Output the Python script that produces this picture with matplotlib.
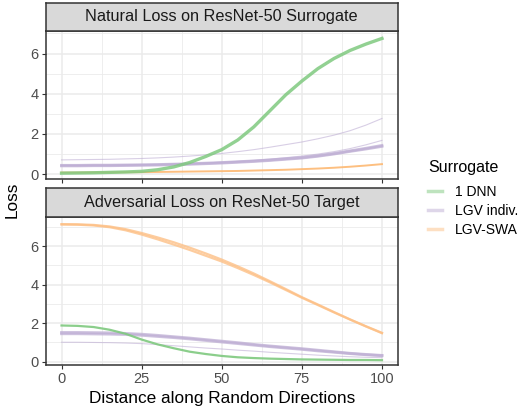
import matplotlib
matplotlib.use("Agg")
import matplotlib.pyplot as plt
from matplotlib.lines import Line2D
from matplotlib.ticker import MultipleLocator

plt.rcParams['font.family'] = ['Liberation Sans', 'DejaVu Sans']

# distance along random directions
DIST = list(range(0, 101, 5))

# natural loss on the surrogate
nat_dnn = [0.05, 0.06, 0.07, 0.09, 0.11, 0.14, 0.22, 0.36, 0.58, 0.88, 1.22,
           1.7, 2.35, 3.15, 3.95, 4.63, 5.25, 5.75, 6.15, 6.47, 6.75]
nat_lgv_a = [0.41, 0.41, 0.42, 0.42, 0.43, 0.44, 0.45, 0.47, 0.49, 0.52, 0.55,
             0.59, 0.63, 0.68, 0.74, 0.8, 0.89, 1.0, 1.13, 1.25, 1.38]
nat_lgv_b = [0.44, 0.44, 0.45, 0.45, 0.46, 0.47, 0.48, 0.5, 0.52, 0.55, 0.58,
             0.62, 0.66, 0.71, 0.77, 0.83, 0.92, 1.03, 1.16, 1.29, 1.43]
nat_lgv_c = [0.44, 0.44, 0.45, 0.45, 0.46, 0.47, 0.49, 0.51, 0.53, 0.56, 0.6,
             0.64, 0.69, 0.75, 0.82, 0.9, 1.0, 1.12, 1.27, 1.46, 1.68]
nat_lgv_d = [0.71, 0.72, 0.73, 0.74, 0.76, 0.78, 0.81, 0.85, 0.9, 0.96, 1.03,
             1.12, 1.22, 1.34, 1.47, 1.6, 1.76, 1.94, 2.16, 2.44, 2.77]
nat_swa = [0.08, 0.08, 0.09, 0.09, 0.1, 0.1, 0.11, 0.12, 0.13, 0.14, 0.15,
           0.16, 0.18, 0.2, 0.22, 0.25, 0.28, 0.32, 0.37, 0.43, 0.5]

# adversarial loss on the target
adv_dnn = [1.88, 1.86, 1.8, 1.66, 1.45, 1.15, 0.9, 0.7, 0.52, 0.4, 0.3,
           0.23, 0.19, 0.16, 0.14, 0.12, 0.11, 0.1, 0.09, 0.09, 0.08]
adv_lgv_a = [1.52, 1.52, 1.51, 1.5, 1.47, 1.43, 1.37, 1.3, 1.23, 1.15, 1.07,
             0.99, 0.9, 0.82, 0.75, 0.68, 0.6, 0.52, 0.44, 0.38, 0.33]
adv_lgv_b = [1.45, 1.45, 1.44, 1.43, 1.41, 1.37, 1.31, 1.25, 1.18, 1.1, 1.02,
             0.94, 0.86, 0.78, 0.71, 0.64, 0.56, 0.49, 0.42, 0.36, 0.31]
adv_lgv_c = [1.01, 1.01, 1.0, 0.99, 0.97, 0.94, 0.89, 0.83, 0.77, 0.71, 0.66,
             0.6, 0.55, 0.49, 0.44, 0.39, 0.34, 0.3, 0.26, 0.23, 0.21]
adv_swa_a = [7.14, 7.13, 7.1, 7.02, 6.88, 6.68, 6.45, 6.2, 5.92, 5.62, 5.3,
             4.95, 4.58, 4.18, 3.77, 3.35, 2.97, 2.58, 2.2, 1.84, 1.5]
adv_swa_b = [7.12, 7.11, 7.07, 6.98, 6.82, 6.6, 6.35, 6.08, 5.8, 5.5, 5.2,
             4.86, 4.5, 4.12, 3.72, 3.32, 2.94, 2.56, 2.19, 1.83, 1.48]

LABELS = ["1 DNN", "LGV indiv.", "LGV-SWA"]
COLORS = ["#7FC97F", "#BEAED4", "#FDC086"]
TITLES = ["Natural Loss on ResNet-50 Surrogate", "Adversarial Loss on ResNet-50 Target"]

W, H = 519, 409
fig = plt.figure(figsize=(W / 100, H / 100), dpi=100)


def box(x0, y0, x1, y1):
    # pixel box (top-left origin) -> figure fraction rect
    return [x0 / W, 1 - y1 / H, (x1 - x0) / W, (y1 - y0) / H]


def style_panel(ax, ylim):
    ax.set_xlim(-5, 105)
    ax.set_ylim(*ylim)
    ax.xaxis.set_major_locator(MultipleLocator(25))
    ax.xaxis.set_minor_locator(MultipleLocator(12.5))
    ax.yaxis.set_major_locator(MultipleLocator(2))
    ax.yaxis.set_minor_locator(MultipleLocator(1))
    ax.grid(which="major", color="#EBEBEB", lw=1.1)
    ax.grid(which="minor", color="#EBEBEB", lw=0.6)
    ax.set_axisbelow(True)
    for s in ax.spines.values():
        s.set_color("#333333")
        s.set_linewidth(1.1)
    ax.tick_params(which="major", color="#333333", length=3, width=0.8,
                   labelcolor="#4D4D4D", labelsize=10.5, pad=2)
    ax.tick_params(which="minor", length=0)


def strip(y0, y1, text):
    s = fig.add_axes(box(45.5, y0, 398, y1))
    s.set_facecolor("#D9D9D9")
    s.set_xticks([])
    s.set_yticks([])
    for sp in s.spines.values():
        sp.set_color("#333333")
        sp.set_linewidth(1.1)
    s.text(0.5, 0.5, text, ha="center", va="center", fontsize=11.7, color="#1A1A1A",
           transform=s.transAxes)


ax1 = fig.add_axes(box(45.5, 31, 398, 179))
ax2 = fig.add_axes(box(45.5, 217, 398, 365))
strip(3, 31, TITLES[0])
strip(188, 217, TITLES[1])

# natural panel
for ys in [nat_lgv_c, nat_lgv_d]:
    ax1.plot(DIST, ys, color=COLORS[1], lw=0.8, alpha=0.6)
for ys in [nat_lgv_a, nat_lgv_b]:
    ax1.plot(DIST, ys, color=COLORS[1], lw=2.0, alpha=0.75)
ax1.plot(DIST, nat_swa, color="#FDB872", lw=1.4, alpha=0.9)
ax1.plot(DIST, nat_dnn, color=COLORS[0], lw=2.4, alpha=0.85)
style_panel(ax1, (-0.24, 7.12))
ax1.tick_params(axis="x", labelbottom=False)

# adversarial panel
ax2.plot(DIST, adv_lgv_c, color=COLORS[1], lw=0.8, alpha=0.6)
for ys in [adv_lgv_a, adv_lgv_b]:
    ax2.plot(DIST, ys, color=COLORS[1], lw=2.0, alpha=0.75)
ax2.plot(DIST, adv_dnn, color=COLORS[0], lw=1.6, alpha=0.9)
for ys in [adv_swa_a, adv_swa_b]:
    ax2.plot(DIST, ys, color=COLORS[2], lw=1.6, alpha=0.8)
style_panel(ax2, (-0.17, 7.51))
ax2.set_xlabel("Distance along Random Directions", fontsize=12.4, labelpad=4)

fig.text(12 / W, 1 - 200 / H, "Loss", rotation=90, ha="center", va="center", fontsize=12.4)

# legend: title as its own text so the gap to the keys can match
fig.text(428 / W, 1 - 167 / H, "Surrogate", ha="left", va="center", fontsize=11.5)
handles = [Line2D([0], [0], color=c, lw=2.5, alpha=0.5) for c in COLORS]
fig.legend(handles, LABELS, loc="upper left",
           bbox_to_anchor=(428 / W, 1 - 185 / H), frameon=False,
           fontsize=10, handlelength=1.0, handletextpad=0.95,
           labelspacing=0.35, borderaxespad=0, borderpad=0)

fig.savefig("out.png", dpi=100)
